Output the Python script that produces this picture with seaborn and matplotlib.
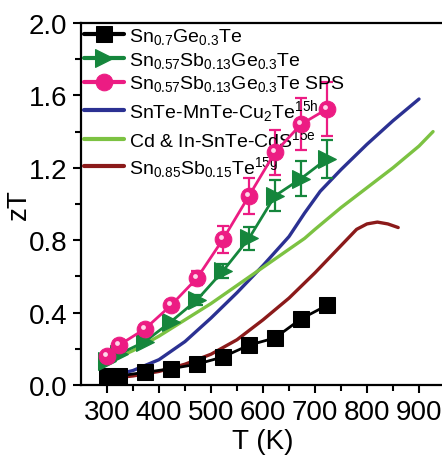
import numpy as np
import pandas as pd
import matplotlib
matplotlib.use("Agg")
import matplotlib.pyplot as plt
import seaborn as sns

# ---- data ----
T_exp = [300, 323, 373, 423, 473, 523, 573, 623, 673, 723]
zt_snge = [0.05, 0.05, 0.07, 0.09, 0.115, 0.155, 0.22, 0.26, 0.365, 0.44]
zt_snsbge = [0.13, 0.17, 0.24, 0.35, 0.47, 0.63, 0.81, 1.045, 1.14, 1.25]
err_snsbge = [0.0, 0.0, 0.0, 0.0, 0.03, 0.04, 0.065, 0.085, 0.097, 0.105]
zt_sps = [0.16, 0.22, 0.31, 0.44, 0.59, 0.805, 1.045, 1.285, 1.44, 1.525]
err_sps = [0.0, 0.0, 0.0, 0.0, 0.04, 0.075, 0.10, 0.125, 0.143, 0.15]

T_mn = [320, 350, 400, 450, 500, 550, 600, 650, 680, 710, 750, 800, 850, 900]
zt_mn = [0.06, 0.08, 0.14, 0.24, 0.37, 0.51, 0.66, 0.82, 0.95, 1.07, 1.19, 1.33, 1.46, 1.58]

T_cd = [290, 350, 400, 450, 500, 550, 600, 650, 680, 700, 750, 800, 850, 900, 927]
zt_cd = [0.11, 0.19, 0.27, 0.36, 0.45, 0.55, 0.65, 0.75, 0.81, 0.86, 0.98, 1.09, 1.20, 1.32, 1.40]

T_sb = [300, 350, 400, 450, 500, 550, 600, 650, 700, 750, 780, 800, 820, 840, 860]
zt_sb = [0.035, 0.05, 0.075, 0.115, 0.17, 0.25, 0.36, 0.48, 0.62, 0.77, 0.86, 0.89, 0.90, 0.89, 0.87]

labels = [r"Sn$_{0.7}$Ge$_{0.3}$Te",
          r"Sn$_{0.57}$Sb$_{0.13}$Ge$_{0.3}$Te",
          r"Sn$_{0.57}$Sb$_{0.13}$Ge$_{0.3}$Te SPS",
          r"SnTe-MnTe-Cu$_2$Te$^{15h}$",
          r"Cd & In-SnTe-CdS$^{15e}$",
          r"Sn$_{0.85}$Sb$_{0.15}$Te$^{15g}$"]
colors = ["#000000", "#15863c", "#ec1c83", "#2b3192", "#7cc242", "#8b1a1a"]

sns.set_style("ticks")
plt.rcParams["font.family"] = ["Liberation Sans", "DejaVu Sans"]
plt.rcParams["mathtext.fontset"] = "custom"
plt.rcParams["mathtext.rm"] = "Liberation Sans"
plt.rcParams["mathtext.it"] = "Liberation Sans"
plt.rcParams["mathtext.default"] = "regular"
for k in ["text.color", "axes.labelcolor", "xtick.color", "ytick.color", "axes.edgecolor"]:
    plt.rcParams[k] = "black"

fig = plt.figure(figsize=(4.42, 4.56), dpi=100)
ax = fig.add_axes([81/442, 70/456, 364/442, 362/456])

# literature curves
sns.lineplot(x=T_mn, y=zt_mn, ax=ax, color=colors[3], lw=2.4, label=labels[3], zorder=2)
sns.lineplot(x=T_cd, y=zt_cd, ax=ax, color=colors[4], lw=2.4, label=labels[4], zorder=2)
sns.lineplot(x=T_sb, y=zt_sb, ax=ax, color=colors[5], lw=2.4, label=labels[5], zorder=2)

# experimental series
ax.errorbar(T_exp, zt_snsbge, yerr=err_snsbge, fmt="none", ecolor=colors[1],
            elinewidth=1.6, capsize=4, capthick=1.6, zorder=3)
ax.errorbar(T_exp, zt_sps, yerr=err_sps, fmt="none", ecolor=colors[2],
            elinewidth=1.6, capsize=4, capthick=1.6, zorder=4)
sns.lineplot(x=T_exp, y=zt_snge, ax=ax, color=colors[0], lw=2, marker="s",
             markersize=11, markeredgecolor=colors[0], label=labels[0], zorder=5)
sns.lineplot(x=T_exp, y=zt_snsbge, ax=ax, color=colors[1], lw=2, marker=">",
             markersize=13, markeredgecolor=colors[1], label=labels[1], zorder=5)
sns.lineplot(x=T_exp, y=zt_sps, ax=ax, color=colors[2], lw=2, marker="o",
             markersize=12, markeredgecolor=colors[2], label=labels[2], zorder=6)
# sphere highlight on pink markers
sns.scatterplot(x=np.array(T_exp) - 3, y=np.array(zt_sps) + 0.012, ax=ax,
                color="#ffd6ea", s=12, linewidth=0, zorder=7, legend=False)

ax.set_xlim(250, 950)
ax.set_ylim(0, 2.0)
ax.set_xticks([300, 400, 500, 600, 700, 800, 900])
ax.set_xticks([350, 450, 550, 650, 750, 850], minor=True)
ax.set_yticks([0.0, 0.4, 0.8, 1.2, 1.6, 2.0])
ax.set_yticks([0.2, 0.6, 1.0, 1.4, 1.8], minor=True)
ax.yaxis.set_major_formatter(matplotlib.ticker.FormatStrFormatter("%.1f"))
ax.tick_params(axis="both", which="major", direction="out", length=6, width=1.5,
               labelsize=20, pad=4)
ax.tick_params(axis="both", which="minor", direction="out", length=4, width=1.5)
for s in ax.spines.values():
    s.set_linewidth(1.6)
    s.set_visible(True)
ax.set_xlabel("T (K)", fontsize=20, labelpad=2)
ax.set_ylabel("zT", fontsize=20)
ax.yaxis.set_label_coords(-0.135, 0.5)

h, l = ax.get_legend_handles_labels()
order = [l.index(x) for x in labels]
leg = ax.legend([h[i] for i in order], [l[i] for i in order], loc="upper left",
                bbox_to_anchor=(-0.025, 1.025), frameon=False, fontsize=14,
                handlelength=2.1, handletextpad=0.25, labelspacing=0.2,
                borderaxespad=0.2)
for line in leg.get_lines():
    line.set_linewidth(3)

fig.savefig("out.png", dpi=100)
